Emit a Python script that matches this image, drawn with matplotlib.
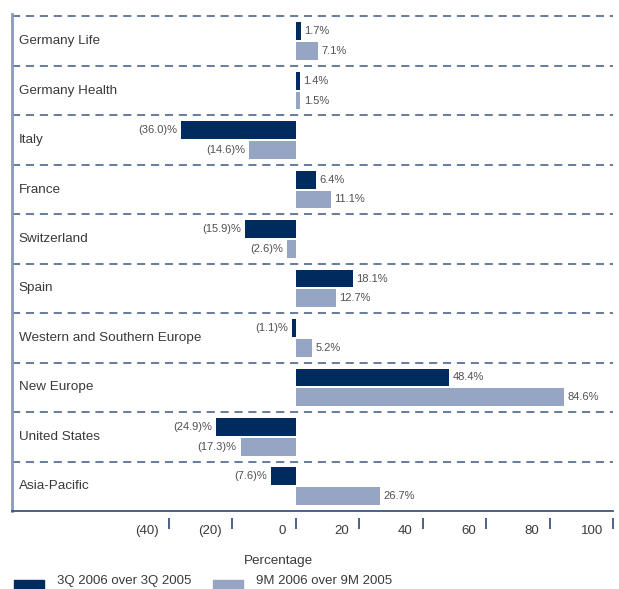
import numpy as np
import matplotlib.pyplot as plt
import matplotlib.transforms as mtransforms
from matplotlib.patches import Rectangle

# -----------------------------
# DATA
# -----------------------------
regions = ["Germany Life", "Germany Health", "Italy", "France", "Switzerland",
           "Spain", "Western and Southern Europe", "New Europe",
           "United States", "Asia-Pacific"]
q3_growth = [1.7, 1.4, -36.0, 6.4, -15.9, 18.1, -1.1, 48.4, -24.9, -7.6]
m9_growth = [7.1, 1.5, -14.6, 11.1, -2.6, 12.7, 5.2, 84.6, -17.3, 26.7]
series_names = ["3Q 2006 over 3Q 2005", "9M 2006 over 9M 2005"]
xticks = [-40, -20, 0, 20, 40, 60, 80, 100]
xtick_labels = ["(40)", "(20)", "0", "20", "40", "60", "80", "100"]

# -----------------------------
# STYLE
# -----------------------------
plt.rcParams['font.family'] = ['Liberation Sans', 'DejaVu Sans']

dark = "#002b5e"
light = "#97a5c4"
dash_col = "#5b7296"
txt = "#3a3a3a"

W, H = 619, 589
fig = plt.figure(figsize=(W/100, H/100), dpi=100)
ax = fig.add_axes([12/W, 1 - 511/H, (613-12)/W, (511-14)/H])

y = np.arange(len(regions))
bh = 0.36
off = 0.2

ax.barh(y - off, q3_growth, height=bh, color=dark)
ax.barh(y + off, m9_growth, height=bh, color=light)

def fmt(v):
    return f"{v:.1f}%" if v >= 0 else f"({abs(v):.1f})%"

for yy, vals in ((y - off, q3_growth), (y + off, m9_growth)):
    for yi, v in zip(yy, vals):
        if v >= 0:
            ax.annotate(fmt(v), (v, yi), xytext=(2.5, 0), textcoords='offset points',
                        ha='left', va='center', fontsize=8, color="#505050")
        else:
            ax.annotate(fmt(v), (v, yi), xytext=(-3, 0), textcoords='offset points',
                        ha='right', va='center', fontsize=8, color="#505050")

for i, name in enumerate(regions):
    ax.text(0.011, i, name, transform=ax.get_yaxis_transform(), ha='left',
            va='center', fontsize=9.7, color=txt)

# dashed separators
for b in np.arange(-0.5, len(regions) - 1, 1.0):
    ax.axhline(b, color=dash_col, lw=1.3, ls=(0, (4.5, 3.2)))

ax.set_xlim(-89.3, 100)
ax.set_ylim(len(regions) - 0.5, -0.55)

for s in ['top', 'right']:
    ax.spines[s].set_visible(False)
ax.spines['bottom'].set_color("#3d5680")
ax.spines['bottom'].set_linewidth(1.3)
ax.spines['left'].set_color("#8a9bbb")
ax.spines['left'].set_linewidth(2)

ax.set_yticks([])
ax.set_xticks(xticks)
ax.set_xticklabels(xtick_labels, fontsize=9.5, color=txt)
ax.tick_params(axis='x', length=0, pad=10)
shift = mtransforms.ScaledTranslation(-10/100, 0, fig.dpi_scale_trans)
for lab in ax.get_xticklabels():
    lab.set_ha('right')
    lab.set_transform(lab.get_transform() + shift)

# detached tick marks below the axis
ax.vlines(xticks, -0.015, -0.036, transform=ax.get_xaxis_transform(),
          color="#3d5680", lw=1.3, clip_on=False)

ax.set_xlabel("Percentage", fontsize=9.7, color=txt)
ax.xaxis.set_label_coords((278-12)/(613-12), -(555-511)/(511-14))

# legend
leg = [(14, dark, series_names[0]), (213, light, series_names[1])]
for x0, c, name in leg:
    fig.add_artist(Rectangle((x0/W, 0), 30/W, 9/H, transform=fig.transFigure,
                             color=c, clip_on=False))
    fig.text((x0 + 43)/W, (H - 581)/H, name, fontsize=9.5, color=txt,
             ha='left', va='center')

plt.savefig("out.png", dpi=100)
